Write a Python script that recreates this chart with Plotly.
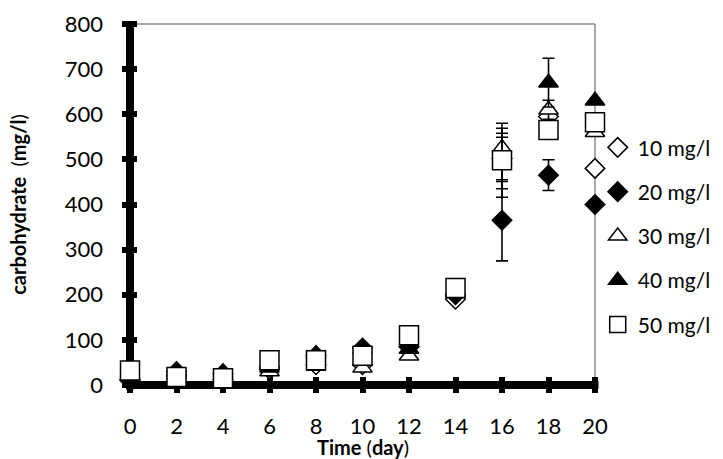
import plotly.graph_objects as go

days = [0, 2, 4, 6, 8, 10, 12, 14, 16, 18, 20]
series_names = ["10 mg/l", "20 mg/l", "30 mg/l", "40 mg/l", "50 mg/l"]
c10 = [12, 20, 12, 35, 45, 45, 85, 190, 502, 595, 480]
c20 = [10, 30, 25, 40, 65, 82, 85, 200, 365, 465, 400]
c30 = [20, 22, 15, 30, 42, 38, 65, 205, 525, 610, 560]
c40 = [25, 32, 28, 38, 68, 80, 80, 210, 500, 670, 630]
c50 = [32, 18, 15, 55, 55, 65, 110, 215, 498, 565, 582]
e10 = [None] * 8 + [67, None, None]
e20 = [None] * 8 + [90, 34, None]
e30 = [None] * 8 + [33, 21, None]
e40 = [None] * 8 + [49, 54, None]
e50 = [None] * 8 + [82, None, None]
y_ticks = [0, 100, 200, 300, 400, 500, 600, 700, 800]
x_ticks = [0, 2, 4, 6, 8, 10, 12, 14, 16, 18, 20]
x_title = "<b>Time</b> (<b>day</b>)"
y_title = "<b>carbohydrate</b>&nbsp;&nbsp;(<b>mg/l</b>)"

values = [c10, c20, c30, c40, c50]
errors = [e10, e20, e30, e40, e50]
symbols = ["diamond", "diamond", "triangle-up", "triangle-up", "square"]
fills = ["white", "black", "white", "black", "white"]
sizes = [15, 15, 17, 17, 19]

FONT = "Lato"
fig = go.Figure()
for i in range(5):
    fig.add_trace(go.Scatter(
        x=days, y=values[i], name=series_names[i], mode="markers",
        legendgroup=f"g{i}",
        cliponaxis=False,
        marker=dict(symbol=symbols[i], size=sizes[i], color=fills[i],
                    line=dict(color="black", width=1.5)),
        error_y=dict(type="data", array=errors[i], visible=True,
                     color="black", thickness=1.6, width=6),
    ))

# thin grey frame top/right
fig.add_shape(type="line", xref="x", yref="y", x0=0, x1=20, y0=800, y1=800,
              line=dict(color="#8c8c8c", width=1.5), layer="below")
fig.add_shape(type="line", xref="x", yref="y", x0=20, x1=20, y0=0, y1=800,
              line=dict(color="#8c8c8c", width=1.5), layer="below")
# thick black axes
fig.add_shape(type="line", xref="x", yref="y", x0=0, x1=0, y0=-10, y1=800,
              line=dict(color="black", width=8), layer="below")
fig.add_shape(type="line", xref="x", yref="y", x0=-0.17, x1=20.15, y0=0, y1=0,
              line=dict(color="black", width=8), layer="below")

fig.add_annotation(text=x_title, xref="paper", yref="paper", x=0.5, y=-0.143,
                   xanchor="center", yanchor="middle", showarrow=False,
                   font=dict(family=FONT, size=20, color="black"))

fig.update_layout(
    width=723, height=459,
    margin=dict(l=122, r=120, t=16, b=66, autoexpand=False),
    paper_bgcolor="white", plot_bgcolor="white",
    font=dict(family=FONT, size=22, color="black"),
    showlegend=True,
    legend=dict(x=0.989, xanchor="left", y=0.705, yanchor="top",
                font=dict(family=FONT, size=21, color="black"),
                tracegroupgap=14, traceorder="grouped",
                bgcolor="rgba(0,0,0,0)", borderwidth=0),
    xaxis=dict(range=[-0.344, 20.344], tickvals=x_ticks,
               ticktext=[str(v) for v in x_ticks],
               showgrid=False, zeroline=False, showline=False, automargin=False,
               ticks="inside", ticklen=16, tickwidth=6, tickcolor="black",
               ticklabelstandoff=18, layer="below traces",
               tickfont=dict(family=FONT, size=22)),
    yaxis=dict(range=[-17.7, 817.7], tickvals=y_ticks,
               ticktext=[str(v) for v in y_ticks],
               showgrid=False, zeroline=False, showline=False, automargin=False,
               ticks="inside", ticklen=15, tickwidth=6, tickcolor="black",
               ticklabelstandoff=18, layer="below traces",
               tickfont=dict(family=FONT, size=22),
               title=dict(text=y_title, standoff=32,
                          font=dict(family=FONT, size=20))),
)

fig.write_html("out.html", config={"displayModeBar": False},
               post_script="document.body.style.margin='0';")
